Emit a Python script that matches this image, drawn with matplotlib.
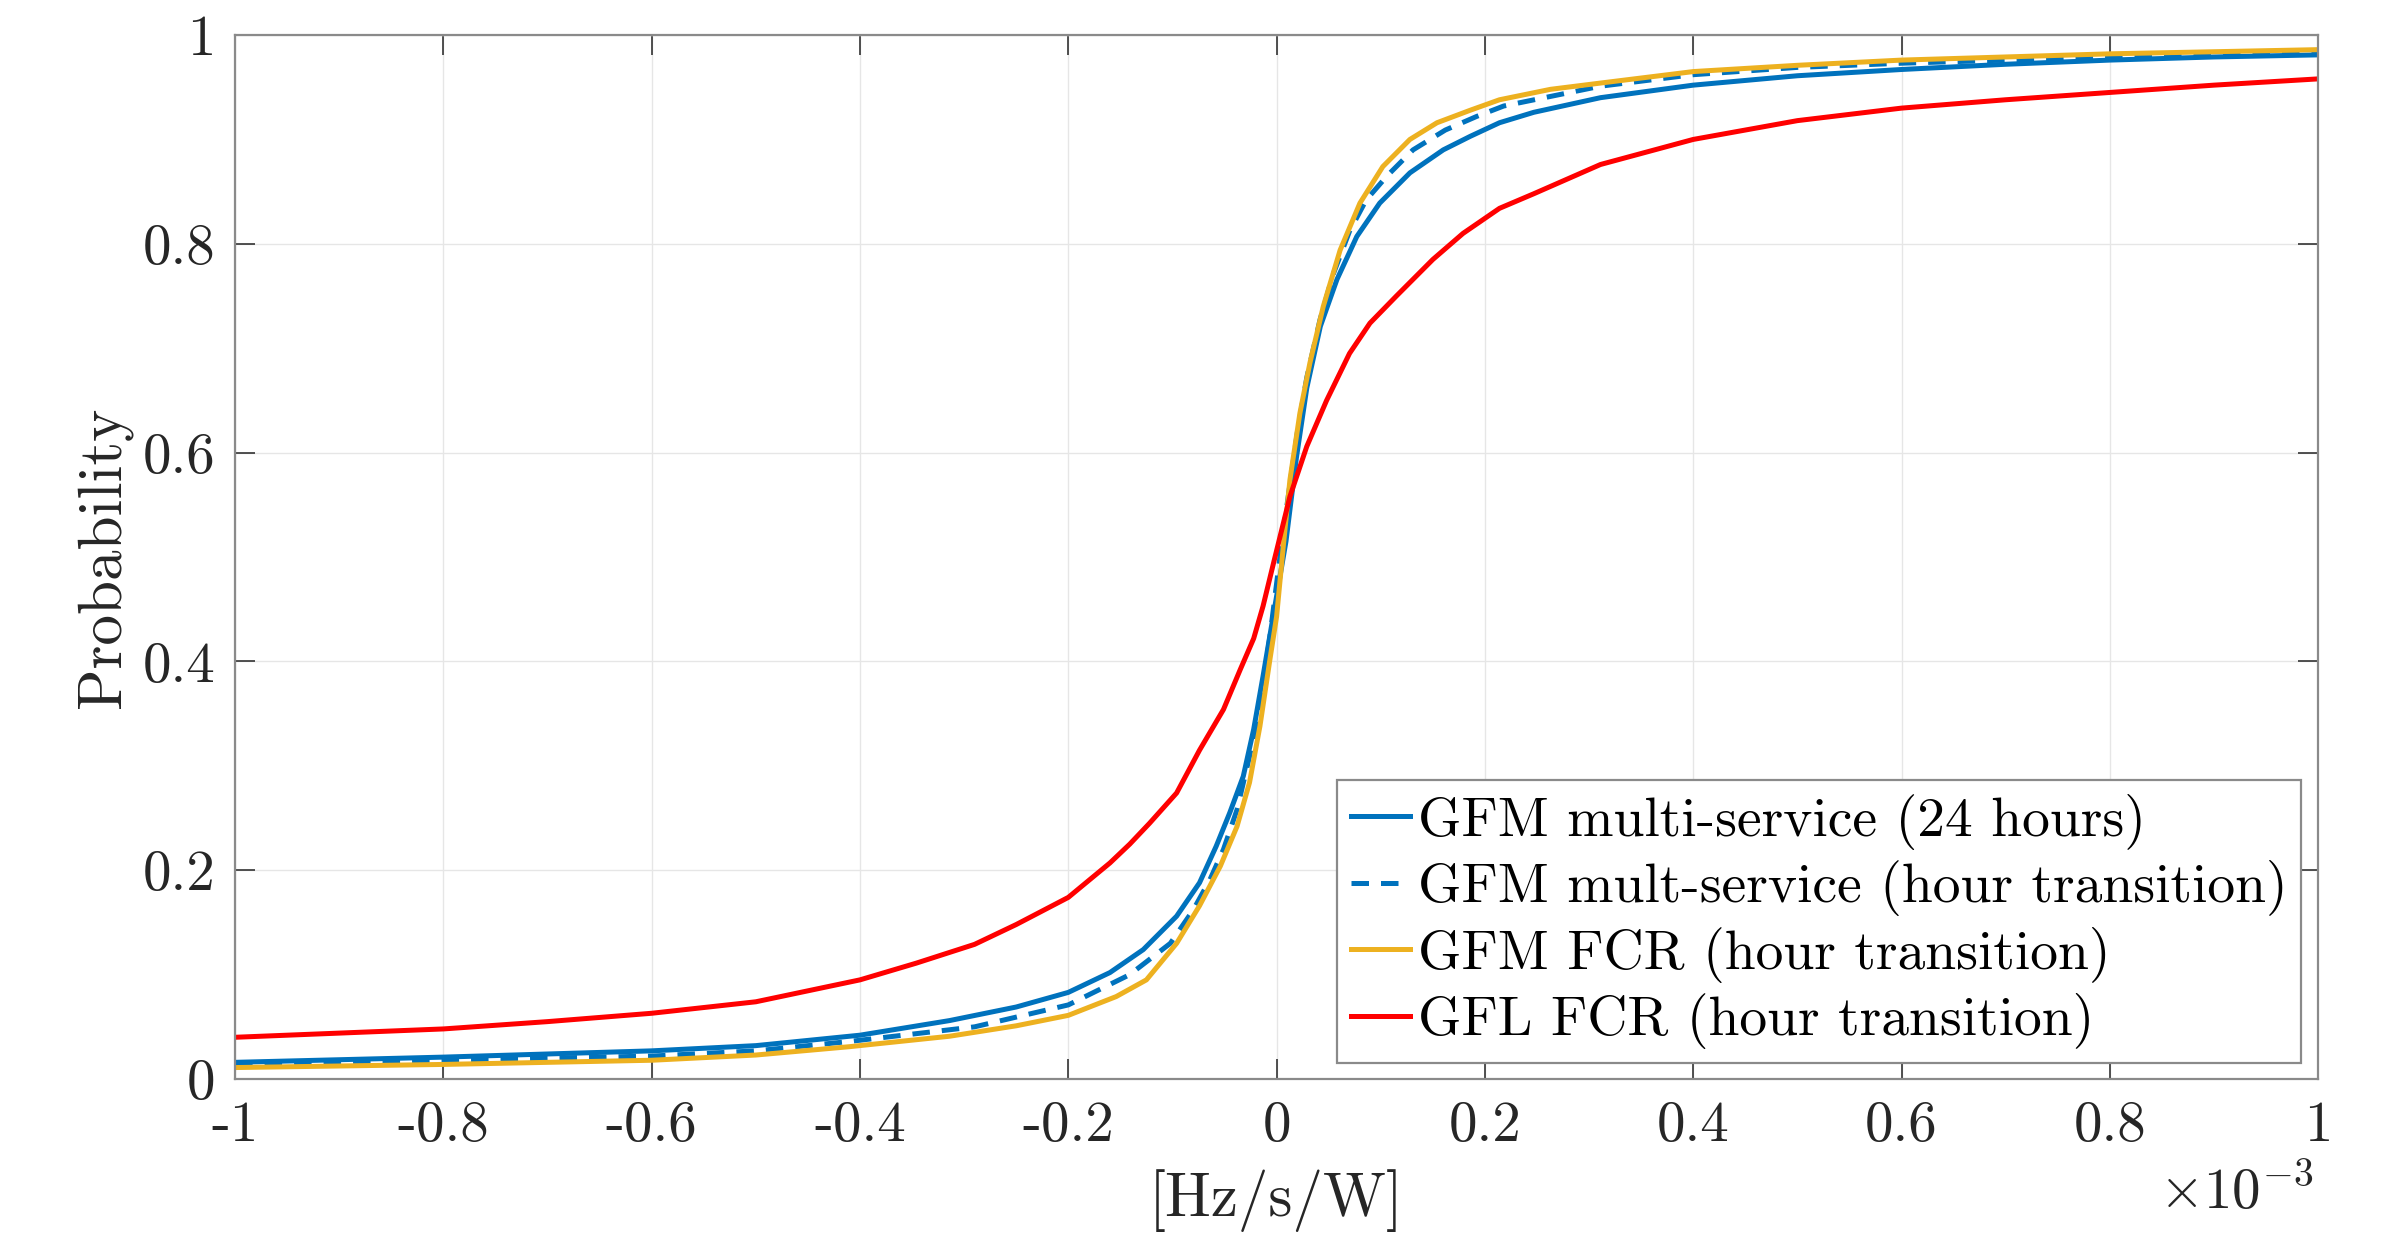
import numpy as np
import matplotlib
matplotlib.use('Agg')
import matplotlib.pyplot as plt

# CDF values (x in units of 1e-3 Hz/s/W)
xGfmMulti = [-1.0, -0.8, -0.6, -0.5, -0.4, -0.314, -0.25, -0.2, -0.16, -0.128, -0.096, -0.074,
             -0.058, -0.045, -0.032, -0.022, -0.013, -0.003, 0.009, 0.019, 0.029, 0.042, 0.058,
             0.077, 0.099, 0.128, 0.16, 0.186, 0.214, 0.247, 0.311, 0.4, 0.5, 0.6, 0.7, 0.8,
             0.9, 1.0]
pGfmMulti = [0.016, 0.021, 0.027, 0.032, 0.042, 0.056, 0.069, 0.083, 0.102, 0.124, 0.156, 0.188,
             0.223, 0.255, 0.290, 0.335, 0.386, 0.445, 0.515, 0.595, 0.662, 0.721, 0.766,
             0.807, 0.839, 0.868, 0.890, 0.903, 0.916, 0.926, 0.940, 0.952, 0.961, 0.967, 0.972,
             0.976, 0.979, 0.981]

xGfmMultHour = [-1.0, -0.8, -0.6, -0.5, -0.41, -0.29, -0.2, -0.141, -0.102, -0.08, -0.064, -0.051,
                -0.038, -0.026, -0.016, -0.0064, 0.0032, 0.010, 0.020, 0.029, 0.0416, 0.054,
                0.070, 0.086, 0.106, 0.131, 0.162, 0.192, 0.218, 0.311, 0.4, 0.5, 0.6, 0.8, 1.0]
pGfmMultHour = [0.014, 0.018, 0.022, 0.027, 0.036, 0.050, 0.071, 0.100, 0.130, 0.162, 0.191, 0.220,
                0.258, 0.309, 0.357, 0.424, 0.500, 0.550, 0.620, 0.672, 0.727, 0.770,
                0.812, 0.842, 0.865, 0.890, 0.909, 0.922, 0.932, 0.951, 0.962, 0.969, 0.973,
                0.979, 0.984]

xGfmFcr = [-1.0, -0.8, -0.6, -0.5, -0.41, -0.314, -0.25, -0.2, -0.154, -0.125, -0.096, -0.074,
           -0.054, -0.038, -0.026, -0.016, -0.0064, 0.0, 0.0064, 0.0128, 0.0224, 0.032, 0.0448,
           0.061, 0.080, 0.102, 0.128, 0.154, 0.186, 0.214, 0.263, 0.311, 0.4, 0.5, 0.6, 0.8, 1.0]
pGfmFcr = [0.011, 0.014, 0.018, 0.023, 0.031, 0.041, 0.051, 0.061, 0.079, 0.095, 0.130, 0.166,
           0.204, 0.242, 0.284, 0.338, 0.402, 0.443, 0.510, 0.574, 0.638, 0.686, 0.740,
           0.794, 0.839, 0.874, 0.900, 0.916, 0.928, 0.938, 0.948, 0.954, 0.965, 0.971, 0.976,
           0.982, 0.986]

xGflFcr = [-1.0, -0.9, -0.8, -0.7, -0.6, -0.5, -0.4, -0.346, -0.29, -0.25, -0.2, -0.16, -0.141,
           -0.122, -0.096, -0.074, -0.051, -0.035, -0.022, -0.013, -0.003, 0.0128, 0.029, 0.048,
           0.070, 0.0896, 0.115, 0.150, 0.179, 0.214, 0.247, 0.311, 0.4, 0.5, 0.6, 0.7, 0.8,
           0.9, 1.0]
pGflFcr = [0.040, 0.044, 0.048, 0.055, 0.063, 0.074, 0.095, 0.111, 0.129, 0.148, 0.174, 0.207, 0.225,
           0.245, 0.274, 0.315, 0.354, 0.392, 0.422, 0.453, 0.494, 0.558, 0.606, 0.650,
           0.695, 0.724, 0.750, 0.785, 0.810, 0.834, 0.848, 0.876, 0.900, 0.918, 0.930, 0.938,
           0.945, 0.952, 0.958]

labels = ['GFM multi-service (24 hours)',
          'GFM mult-service (hour transition)',
          'GFM FCR (hour transition)',
          'GFL FCR (hour transition)']

xTicks = [-1, -0.8, -0.6, -0.4, -0.2, 0, 0.2, 0.4, 0.6, 0.8, 1]
xTickLabels = ['-1', '-0.8', '-0.6', '-0.4', '-0.2', '0', '0.2', '0.4', '0.6', '0.8', '1']
yTicks = [0, 0.2, 0.4, 0.6, 0.8, 1]
yTickLabels = ['0', '0.2', '0.4', '0.6', '0.8', '1']

plt.rcParams['font.family'] = 'serif'
plt.rcParams['font.serif'] = ['cmr10']
plt.rcParams['mathtext.fontset'] = 'cm'
plt.rcParams['axes.unicode_minus'] = False
plt.rcParams['axes.formatter.use_mathtext'] = True

blue = '#0072BD'
yellow = '#EDB120'
red = '#FF0000'
axisGray = '#8a8a8a'

fig = plt.figure(figsize=(11.97, 6.19), dpi=200)
ax = fig.add_axes([0.0982, 0.1284, 0.8701, 0.8433])

ax.plot(xGfmMulti, pGfmMulti, color=blue, linewidth=1.8, label=labels[0])
ax.plot(xGfmMultHour, pGfmMultHour, color=blue, linewidth=1.8, linestyle='--',
        dashes=(3.5, 2.4), label=labels[1])
ax.plot(xGfmFcr, pGfmFcr, color=yellow, linewidth=1.8, label=labels[2])
ax.plot(xGflFcr, pGflFcr, color=red, linewidth=1.8, label=labels[3])

ax.set_xlim(-1, 1)
ax.set_ylim(0, 1)
ax.set_xticks(xTicks)
ax.set_xticklabels(xTickLabels)
ax.set_yticks(yTicks)
ax.set_yticklabels(yTickLabels)
ax.tick_params(direction='in', length=7.2, width=0.6, color='#333333',
               labelsize=20.5, labelcolor='#262626', top=True, right=True)
ax.tick_params(axis='y', pad=7)
ax.tick_params(axis='x', pad=8)
for sp in ax.spines.values():
    sp.set_color(axisGray)
    sp.set_linewidth(0.8)
ax.grid(True, color='#e6e6e6', linewidth=0.5)
ax.set_axisbelow(True)

ax.set_xlabel('[Hz/s/W]', fontsize=22, color='#262626', labelpad=6)
ax.set_ylabel('Probability', fontsize=22, color='#262626', labelpad=4)
ax.text(0.998, -0.125, r'$\times10^{-3}$', transform=ax.transAxes, ha='right',
        va='baseline', fontsize=20.5, color='#262626')

leg = ax.legend(loc='lower right', bbox_to_anchor=(0.992, 0.0153), fontsize=20,
                fancybox=False, framealpha=1, edgecolor=axisGray, handlelength=1.05,
                handletextpad=0.15, labelspacing=0.19, borderpad=0.25, borderaxespad=0)
leg.get_frame().set_linewidth(0.8)

plt.savefig('out.png', dpi=200)
